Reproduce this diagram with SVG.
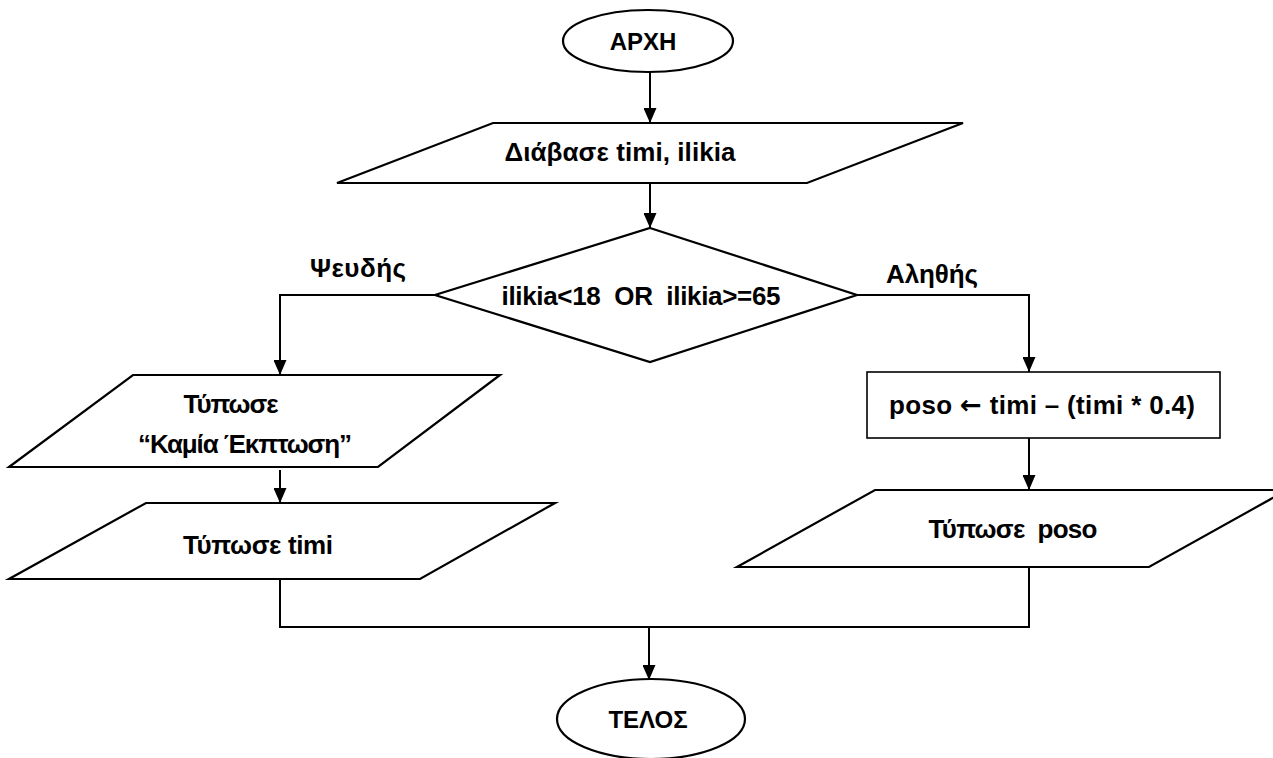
<svg xmlns="http://www.w3.org/2000/svg" width="1273" height="758" viewBox="0 0 1273 758">
<style>
.shape{fill:#fff;stroke:#000;stroke-width:2.2}
.box{fill:#fff;stroke:#000;stroke-width:1.6}
.conn{fill:none;stroke:#000;stroke-width:2}
.t{font-family:"Liberation Sans",Arial,sans-serif;font-weight:bold;font-size:26px;fill:#000;text-anchor:middle}
.term{font-size:24px}
.sym{font-family:"DejaVu Sans",sans-serif;font-weight:bold}
</style>
<defs>
<marker id="arr" markerUnits="userSpaceOnUse" markerWidth="15" markerHeight="13" refX="15" refY="6.5" orient="auto">
<path d="M0,0 L15,6.5 L0,13 z" fill="#000"/>
</marker>
</defs>
<rect width="1273" height="758" fill="#fff"/>
<g id="connectors">
<path class="conn" d="M650,72 V123" marker-end="url(#arr)"/>
<path class="conn" d="M650,183 V228" marker-end="url(#arr)"/>
<path class="conn" d="M435,295 H280 V375" marker-end="url(#arr)"/>
<path class="conn" d="M857,295 H1029 V372" marker-end="url(#arr)"/>
<path class="conn" d="M280,470 V503" marker-end="url(#arr)"/>
<path class="conn" d="M1029,438 V490" marker-end="url(#arr)"/>
<path class="conn" d="M280,579 V627 H1029 V567"/>
<path class="conn" d="M649,627 V680" marker-end="url(#arr)"/>
</g>
<g id="start">
<ellipse class="shape" cx="648" cy="41" rx="85" ry="31"/>
<text class="t term" x="643" y="50">ΑΡΧΗ</text>
</g>
<g id="read">
<polygon class="shape" points="493,123 963,123 807,183 337,183"/>
<text class="t" x="620" y="161" textLength="231">Διάβασε timi, ilikia</text>
</g>
<g id="decision">
<polygon class="shape" points="650,228 857,295 650,362 435,295"/>
<text class="t" x="641" y="305" textLength="279" xml:space="preserve">ilikia&lt;18  OR  ilikia&gt;=65</text>
</g>
<g id="label-false">
<text class="t" x="358" y="277" textLength="96">Ψευδής</text>
</g>
<g id="label-true">
<text class="t" x="932" y="283" textLength="92">Αληθής</text>
</g>
<g id="print-none">
<polygon class="shape" points="133,375 500,375 378,467 9,467"/>
<text class="t" x="231" y="413" textLength="95">Τύπωσε</text>
<text class="t" x="245" y="453" textLength="214">“Καμία Έκπτωση”</text>
</g>
<g id="print-timi">
<polygon class="shape" points="146,503 555,503 420,579 9,579"/>
<text class="t" x="258" y="554" textLength="150">Τύπωσε timi</text>
</g>
<g id="assign">
<rect class="box" x="867" y="372" width="353" height="66"/>
<text class="t" x="1042" y="414" textLength="306">poso <tspan class="sym">←</tspan> timi – (timi * 0.4)</text>
</g>
<g id="print-poso">
<polygon class="shape" points="875,490 1287,490 1149,567 737,567"/>
<text class="t" x="1013" y="538" textLength="169" xml:space="preserve">Τύπωσε  poso</text>
</g>
<g id="end">
<ellipse class="shape" cx="651" cy="719" rx="94" ry="40"/>
<text class="t term" x="648" y="728">ΤΕΛΟΣ</text>
</g>
</svg>
